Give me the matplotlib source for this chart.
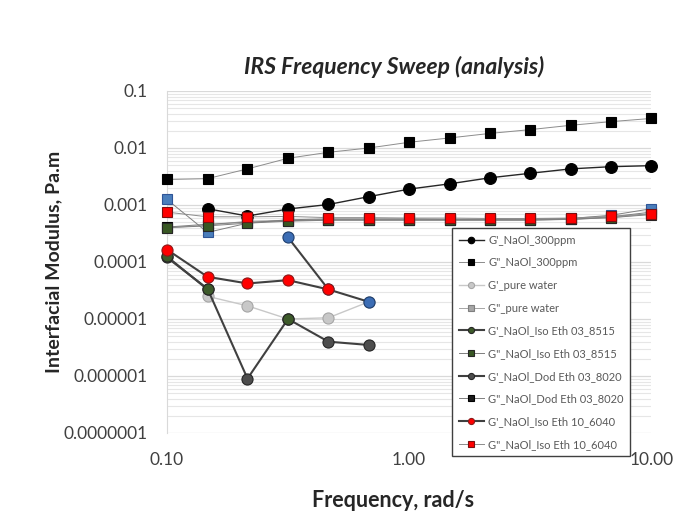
import matplotlib
matplotlib.use("Agg")
import matplotlib.pyplot as plt
import numpy as np

plt.rcParams["font.family"] = ["Lato", "DejaVu Sans"]

nan = np.nan

# frequency points, rad/s
freq = [0.1, 0.147, 0.215, 0.316, 0.464, 0.681, 1.0, 1.468, 2.154, 3.162, 4.642, 6.813, 10.0]

# G' / G" values (Pa.m)
g1_300 = [nan, 8.6e-4, 6.4e-4, 8.5e-4, 1.02e-3, 1.4e-3, 1.9e-3, 2.35e-3, 3.0e-3, 3.6e-3, 4.3e-3, 4.7e-3, 4.9e-3]
g2_300 = [2.8e-3, 2.9e-3, 4.3e-3, 6.6e-3, 8.4e-3, 1.0e-2, 1.26e-2, 1.5e-2, 1.8e-2, 2.1e-2, 2.5e-2, 2.9e-2, 3.3e-2]
g1_water = [nan, 2.5e-5, 1.7e-5, 1.0e-5, 1.05e-5, 2.0e-5, nan, nan, nan, nan, nan, nan, nan]
g2_water = [4.0e-4, 4.4e-4, 5.2e-4, 5.4e-4, 5.5e-4, 5.5e-4, 5.5e-4, 5.5e-4, 5.5e-4, 5.5e-4, 5.6e-4, 6.0e-4, 7.0e-4]
g1_iso8515 = [1.25e-4, 3.3e-5, nan, 1.0e-5, nan, nan, nan, nan, nan, nan, nan, nan, nan]
g2_iso8515 = [4.0e-4, 4.3e-4, 4.8e-4, 5.2e-4, 5.4e-4, 5.4e-4, 5.4e-4, 5.4e-4, 5.4e-4, 5.4e-4, 5.6e-4, 6.0e-4, 6.8e-4]
g1_dod8020 = [1.2e-4, 3.4e-5, 9.0e-7, 1.0e-5, 4.0e-6, 3.5e-6, nan, nan, nan, nan, nan, nan, nan]
g2_dod8020 = [4.1e-4, 4.6e-4, 5.0e-4, 5.3e-4, 5.5e-4, 5.5e-4, 5.5e-4, 5.5e-4, 5.5e-4, 5.5e-4, 5.6e-4, 6.2e-4, 7.5e-4]
g1_iso6040 = [1.65e-4, 5.5e-5, 4.2e-5, 4.8e-5, 3.3e-5, nan, nan, nan, nan, nan, nan, nan, nan]
g2_iso6040 = [7.5e-4, 6.2e-4, 6.2e-4, 6.3e-4, 6.0e-4, 6.0e-4, 5.9e-4, 5.9e-4, 5.8e-4, 5.8e-4, 5.9e-4, 6.3e-4, 7.0e-4]
# extra (blue) series, not in the legend
g1_blue = [nan, nan, nan, 2.7e-4, 3.3e-5, 2.0e-5, nan, nan, nan, nan, nan, nan, nan]
g2_blue = [1.25e-3, 3.3e-4, 4.8e-4, 5.5e-4, 5.7e-4, 5.7e-4, 5.7e-4, 5.6e-4, 5.6e-4, 5.7e-4, 5.8e-4, 6.6e-4, 8.6e-4]

y_ticks = [1e-7, 1e-6, 1e-5, 1e-4, 1e-3, 1e-2, 1e-1]
y_labels = ["0.0000001", "0.000001", "0.00001", "0.0001", "0.001", "0.01", "0.1"]
x_ticks = [0.1, 1, 10]
x_labels = ["0.10", "1.00", "10.00"]

fig = plt.figure(figsize=(6.9, 5.29), dpi=100)
ax = fig.add_axes([0.242, 0.1815, 0.702, 0.6465])
ax.set_xscale("log")
ax.set_yscale("log")
ax.set_xlim(0.1, 10)
ax.set_ylim(1e-7, 0.1)

# horizontal gridlines (major + minor)
ax.yaxis.grid(True, which="major", color="#d9d9d9", lw=0.9)
ax.yaxis.grid(True, which="minor", color="#e6e6e6", lw=0.8)
ax.xaxis.grid(False, which="both")
ax.set_axisbelow(True)


def series(y, label, mfc, mec, lc, lw, marker, ms, z):
    ax.plot(freq, y, color=lc, lw=lw, marker=marker, ms=ms, mfc=mfc, mec=mec,
            mew=0.8, label=label, zorder=z, clip_on=False)


series(g1_300, "G'_NaOl_300ppm", "black", "black", "#262626", 1.0, "o", 8.5, 3)
series(g2_300, 'G"_NaOl_300ppm', "black", "black", "#8c8c8c", 0.7, "s", 7, 3)
series(g1_water, "G'_pure water", "#c8c8c8", "#a6a6a6", "#c8c8c8", 1.0, "o", 8, 3)
series(g2_water, 'G"_pure water', "#a6a6a6", "#7f7f7f", "#a6a6a6", 0.7, "s", 7, 3)
series(g1_iso8515, "G'_NaOl_Iso Eth 03_8515", "#3d5a2a", "#262626", "#404040", 1.5, "o", 8, 4)
series(g2_iso8515, 'G"_NaOl_Iso Eth 03_8515', "#385723", "#262626", "#7f7f7f", 0.7, "s", 7, 4)
series(g1_dod8020, "G'_NaOl_Dod Eth 03_8020", "#4d4d4d", "#262626", "#404040", 1.5, "o", 8, 3.5)
series(g2_dod8020, 'G"_NaOl_Dod Eth 03_8020', "#1a1a1a", "#000000", "#7f7f7f", 0.7, "s", 7, 3)
ax.plot(freq, g1_blue, color="#404040", lw=1.5, marker="o", ms=8, mfc="#3c6db4",
        mec="#1f3f6e", mew=0.8, zorder=3.2, clip_on=False)
ax.plot(freq, g2_blue, color="#7f7f7f", lw=0.7, marker="s", ms=7, mfc="#4a7ebb",
        mec="#2f5597", mew=0.8, zorder=3.2, clip_on=False)
series(g1_iso6040, "G'_NaOl_Iso Eth 10_6040", "#ff0000", "#8b1a1a", "#404040", 1.5, "o", 8, 5)
series(g2_iso6040, 'G"_NaOl_Iso Eth 10_6040', "#ff0000", "#7a1010", "#8c8c8c", 0.7, "s", 7, 5)

ax.set_yticks(y_ticks)
ax.set_yticklabels(y_labels)
ax.set_xticks(x_ticks)
ax.set_xticklabels(x_labels)
ax.yaxis.set_minor_formatter(matplotlib.ticker.NullFormatter())
ax.xaxis.set_minor_formatter(matplotlib.ticker.NullFormatter())
ax.tick_params(axis="both", which="both", length=0, labelsize=12.5, colors="#404040")
ax.tick_params(axis="y", pad=14)
ax.tick_params(axis="x", pad=14)

for s in ["top", "right", "bottom"]:
    ax.spines[s].set_visible(False)
ax.spines["left"].set_color("#d9d9d9")

ax.set_ylabel("Interfacial Modulus, Pa.m", fontsize=14, fontweight="bold", color="#262626")
ax.yaxis.set_label_coords(-0.217, 0.5)
ax.set_xlabel("Frequency, rad/s", fontsize=15.5, fontweight="bold", color="#262626")
ax.xaxis.set_label_coords(0.466, -0.168)

fig.text(394 / 690, 1 - 67 / 529, "IRS Frequency Sweep (analysis)", ha="center", va="center",
         fontsize=16.5, fontweight="bold", fontstyle="italic", color="#262626")

leg = ax.legend(loc="upper left", bbox_to_anchor=(452 / 690, 1 - 228 / 529),
                bbox_transform=fig.transFigure, fontsize=8, labelspacing=1.05,
                frameon=True, fancybox=False, edgecolor="#404040", framealpha=1,
                handlelength=2.3, handletextpad=0.35, markerscale=0.55,
                borderpad=0.6, borderaxespad=0)
leg.get_frame().set_linewidth(1.0)
for t in leg.get_texts():
    t.set_color("#595959")
leg.set_zorder(10)

fig.savefig("out.png", dpi=100)
